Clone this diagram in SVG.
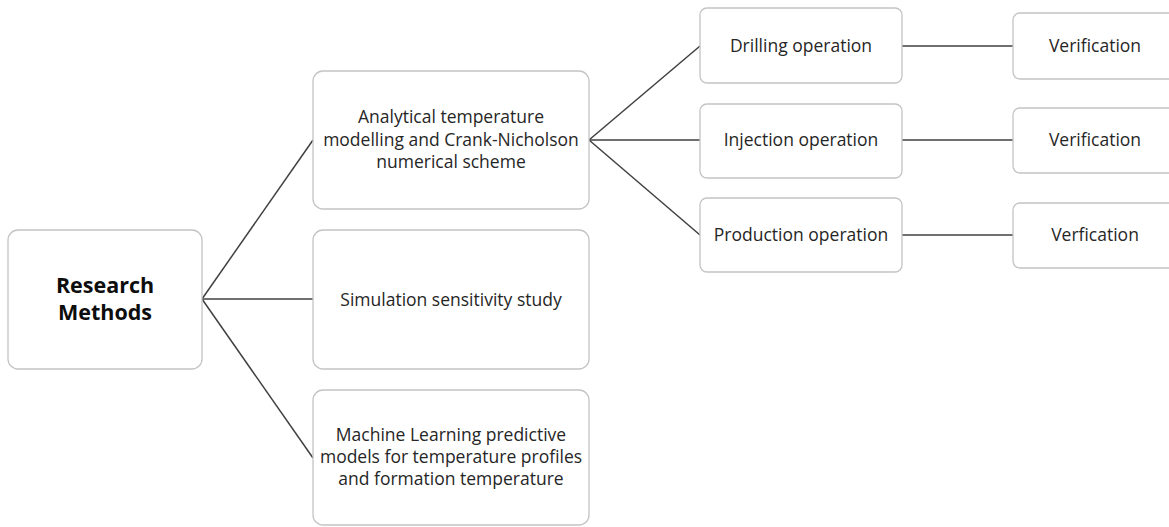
<svg xmlns="http://www.w3.org/2000/svg" width="1169" height="527" viewBox="0 0 1169 527">
<style>
.box{fill:#ffffff;stroke:#c4c4c4;stroke-width:1.3}
.t{font-family:"Open Sans","Liberation Sans",sans-serif;font-size:17.5px;fill:#262626;text-anchor:middle}
.b{font-family:"Open Sans","Liberation Sans",sans-serif;font-size:21.5px;font-weight:bold;fill:#0d0d0d;text-anchor:middle}
.c{stroke:#404040;stroke-width:1.5;fill:none}
</style>
<rect width="1169" height="527" fill="#ffffff"/>
<g id="connectors">
<line class="c" x1="202" y1="299" x2="313" y2="140"/>
<line class="c" x1="202" y1="299" x2="313" y2="299"/>
<line class="c" x1="202" y1="299" x2="313" y2="458"/>
<line class="c" x1="589" y1="140" x2="700" y2="46"/>
<line class="c" x1="589" y1="140" x2="700" y2="140"/>
<line class="c" x1="589" y1="140" x2="700" y2="235"/>
<line class="c" x1="902" y1="46" x2="1013" y2="46"/>
<line class="c" x1="902" y1="140" x2="1013" y2="140"/>
<line class="c" x1="902" y1="235" x2="1013" y2="235"/>
</g>
<g id="research-methods">
<rect class="box" x="8" y="230" width="194" height="139" rx="10"/>
<text class="b" x="105" y="293">Research</text>
<text class="b" x="105" y="320">Methods</text>
</g>
<g id="analytical">
<rect class="box" x="313" y="71" width="276" height="138" rx="10"/>
<text class="t" x="451" y="123">Analytical temperature</text>
<text class="t" x="451" y="146">modelling and Crank-Nicholson</text>
<text class="t" x="451" y="168">numerical scheme</text>
</g>
<g id="simulation">
<rect class="box" x="313" y="230" width="276" height="139" rx="10"/>
<text class="t" x="451" y="306">Simulation sensitivity study</text>
</g>
<g id="machine-learning">
<rect class="box" x="313" y="390" width="276" height="135" rx="10"/>
<text class="t" x="451" y="441">Machine Learning predictive</text>
<text class="t" x="451" y="463">models for temperature profiles</text>
<text class="t" x="451" y="485">and formation temperature</text>
</g>
<g id="drilling">
<rect class="box" x="700" y="8" width="202" height="75" rx="7"/>
<text class="t" x="801" y="52">Drilling operation</text>
</g>
<g id="injection">
<rect class="box" x="700" y="104" width="202" height="74" rx="7"/>
<text class="t" x="801" y="146">Injection operation</text>
</g>
<g id="production">
<rect class="box" x="700" y="198" width="202" height="74" rx="7"/>
<text class="t" x="801" y="241">Production operation</text>
</g>
<g id="verification-1">
<rect class="box" x="1013" y="13" width="170" height="66" rx="7"/>
<text class="t" x="1095" y="52">Verification</text>
</g>
<g id="verification-2">
<rect class="box" x="1013" y="108" width="170" height="65" rx="7"/>
<text class="t" x="1095" y="146">Verification</text>
</g>
<g id="verification-3">
<rect class="box" x="1013" y="203" width="170" height="65" rx="7"/>
<text class="t" x="1095" y="241">Verfication</text>
</g>
</svg>
